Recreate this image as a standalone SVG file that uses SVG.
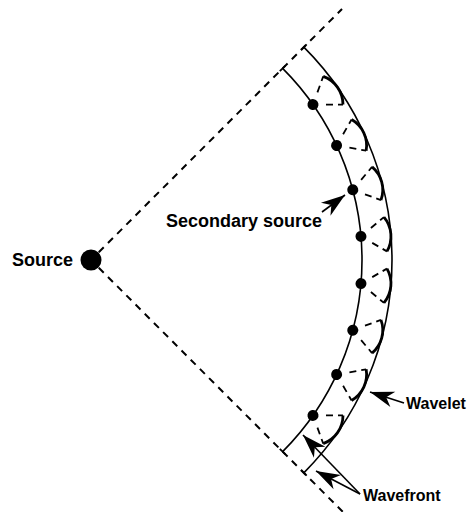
<svg xmlns="http://www.w3.org/2000/svg" width="473" height="512" viewBox="0 0 473 512">
  <defs>
    <style>
      .ray{stroke:#000;stroke-width:2;stroke-dasharray:7 6;fill:none}
      .front{stroke:#000;stroke-width:1.6;fill:none}
      .tick{stroke:#000;stroke-width:1.8}
      .wl-ray{stroke:#000;stroke-width:1.8;stroke-dasharray:7 5;fill:none}
      .wl-arc{stroke:#000;stroke-width:2.8;fill:none}
      .lbl{font-family:"Liberation Sans",Arial,Helvetica,sans-serif;font-weight:bold;font-size:18px;fill:#000}
      .lbl-s{font-size:16px}
      .ptr{stroke:#000;stroke-width:1.6;fill:none}
    </style>
    <marker id="head" markerUnits="userSpaceOnUse" markerWidth="30" markerHeight="20" viewBox="-26 -10 28 20" refX="0" refY="0" orient="auto">
      <path d="M0,0 L-24,-8 L-17,0 L-24,8 Z" fill="#000"/>
    </marker>
    <!-- one secondary source with its wavelet, drawn on the +x axis at radius 271 -->
    <g id="wavelet">
      <circle cx="271" cy="0" r="5.5" fill="#000"/>
      <path class="wl-ray" d="M281.65,-7.46 L295.57,-17.21 M281.65,7.46 L295.57,17.21"/>
      <path class="wl-arc" d="M295.57,-17.21 A30,30 0 0 1 295.57,17.21"/>
    </g>
  </defs>

  <rect width="473" height="512" fill="#fff"/>

  <!-- rays from the source bounding the wavefront -->
  <g id="connectors">
    <line class="ray" x1="11" y1="0" x2="355" y2="0" transform="translate(91,260) rotate(-45)"/>
    <line class="ray" x1="11" y1="0" x2="365" y2="0" transform="translate(91,260) rotate(45)"/>
    <!-- label pointers -->
    <line class="ptr" x1="322" y1="212" x2="345" y2="195" marker-end="url(#head)"/>
    <line class="ptr" x1="404" y1="403" x2="370" y2="392" marker-end="url(#head)"/>
    <line class="ptr" x1="360" y1="494" x2="303" y2="435" marker-end="url(#head)"/>
    <line class="ptr" x1="360" y1="494" x2="316" y2="471" marker-end="url(#head)"/>
  </g>

  <!-- wavefronts: inner (current) and outer (envelope of wavelets) -->
  <g id="wavefront-inner">
    <path class="front" d="M282.63,68.37 A271,271 0 0 1 282.63,451.63"/>
    <line class="tick" x1="267" y1="0" x2="275" y2="0" transform="translate(91,260) rotate(-45)"/>
    <line class="tick" x1="267" y1="0" x2="275" y2="0" transform="translate(91,260) rotate(45)"/>
  </g>
  <g id="wavefront-outer">
    <path class="front" d="M303.84,47.16 A301,301 0 0 1 303.84,472.84"/>
    <line class="tick" x1="297" y1="0" x2="305" y2="0" transform="translate(91,260) rotate(-45)"/>
    <line class="tick" x1="297" y1="0" x2="305" y2="0" transform="translate(91,260) rotate(45)"/>
  </g>

  <!-- secondary sources -->
  <g id="secondary-1"><use href="#wavelet" transform="translate(91,260) rotate(-35)"/></g>
  <g id="secondary-2"><use href="#wavelet" transform="translate(91,260) rotate(-25)"/></g>
  <g id="secondary-3"><use href="#wavelet" transform="translate(91,260) rotate(-15)"/></g>
  <g id="secondary-4"><use href="#wavelet" transform="translate(91,260) rotate(-5)"/></g>
  <g id="secondary-5"><use href="#wavelet" transform="translate(91,260) rotate(5)"/></g>
  <g id="secondary-6"><use href="#wavelet" transform="translate(91,260) rotate(15)"/></g>
  <g id="secondary-7"><use href="#wavelet" transform="translate(91,260) rotate(25)"/></g>
  <g id="secondary-8"><use href="#wavelet" transform="translate(91,260) rotate(35)"/></g>

  <!-- primary source -->
  <g id="source">
    <circle cx="91" cy="260" r="10.5" fill="#000"/>
    <text class="lbl" x="12" y="266">Source</text>
  </g>

  <g id="labels">
    <text class="lbl" x="322" y="227" text-anchor="end">Secondary source</text>
    <text class="lbl lbl-s" x="406" y="409">Wavelet</text>
    <text class="lbl lbl-s" x="363" y="501">Wavefront</text>
  </g>
</svg>
